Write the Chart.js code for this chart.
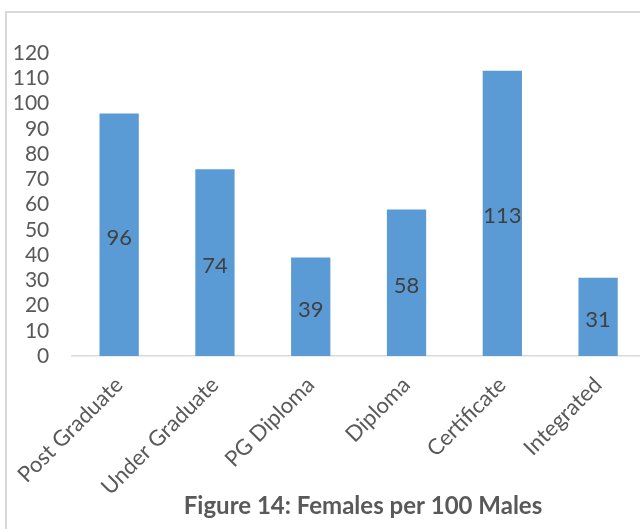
<!DOCTYPE html>
<html>
<head>
<meta charset="utf-8">
<script src="https://cdn.jsdelivr.net/npm/chart.js@4"></script>
<style>
  html, body { margin: 0; padding: 0; overflow: hidden; background: #fff; }
  #wrap { width: 646px; height: 529px; }
</style>
</head>
<body>
<div id="wrap"><canvas id="chart" width="646" height="529"></canvas></div>
<script>
const categories = ['Post Graduate', 'Under Graduate', 'PG Diploma', 'Diploma', 'Certificate', 'Integrated']
const femalesPer100 = [96, 74, 39, 58, 113, 31]
const yTicks = [0, 10, 20, 30, 40, 50, 60, 70, 80, 90, 100, 110, 120]
const titleText = 'Figure 14: Females per 100 Males'

const fontFamily = 'Lato, "Open Sans", sans-serif'

// frame, value labels and bottom title
const extras = {
  id: 'extras',
  beforeDraw(chart) {
    const ctx = chart.ctx
    ctx.save()
    ctx.strokeStyle = '#d9d9d9'
    ctx.lineWidth = 2
    ctx.strokeRect(6, 12, 700, 600)
    ctx.restore()
  },
  afterDatasetsDraw(chart) {
    const ctx = chart.ctx
    const meta = chart.getDatasetMeta(0)
    ctx.save()
    ctx.fillStyle = '#404040'
    ctx.font = '22px ' + fontFamily
    ctx.textAlign = 'center'
    ctx.textBaseline = 'middle'
    meta.data.forEach((bar, i) => {
      ctx.fillText(femalesPer100[i], bar.x, (bar.y + bar.base) / 2 + 3)
    })
    ctx.restore()
  },
  afterDraw(chart) {
    const ctx = chart.ctx
    ctx.save()
    ctx.fillStyle = '#595959'
    ctx.font = 'bold 24px ' + fontFamily
    ctx.textAlign = 'center'
    ctx.textBaseline = 'alphabetic'
    ctx.fillText(titleText, 363, 514)
    ctx.restore()
  }
}

new Chart(document.getElementById('chart').getContext('2d'), {
  type: 'bar',
  data: {
    labels: categories,
    datasets: [{
      data: femalesPer100,
      backgroundColor: '#5b9bd5',
      barPercentage: 0.41,
      categoryPercentage: 1
    }]
  },
  options: {
    responsive: false,
    animation: false,
    layout: { padding: { top: 53, left: 8, right: 0, bottom: 0 } },
    plugins: {
      legend: { display: false },
      tooltip: { enabled: false },
      title: { display: false }
    },
    scales: {
      x: {
        grid: { display: false, drawTicks: false },
        border: { display: true, color: '#d9d9d9', width: 1.5 },
        ticks: {
          color: '#595959',
          font: { family: fontFamily, size: 22 },
          minRotation: 45,
          maxRotation: 45,
          autoSkip: false,
          padding: 16
        },
        afterFit(scale) { scale.height = 173 }
      },
      y: {
        min: 0,
        max: 120,
        grid: { display: false, drawTicks: false },
        border: { display: false },
        afterBuildTicks(scale) { scale.ticks = yTicks.map(v => ({ value: v })) },
        ticks: {
          color: '#595959',
          font: { family: fontFamily, size: 21 },
          autoSkip: false,
          padding: 22
        },
        afterFit(scale) { scale.width = 62 }
      }
    }
  },
  plugins: [extras]
})
</script>
</body>
</html>
